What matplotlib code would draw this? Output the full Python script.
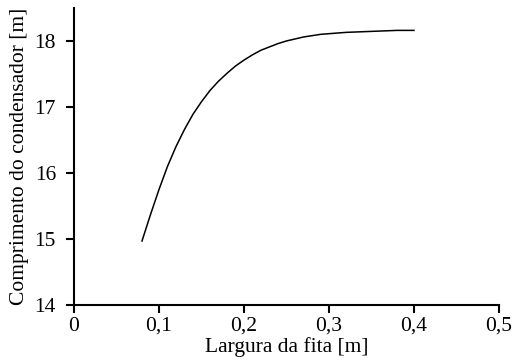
import numpy as np
import matplotlib.pyplot as plt

# largura da fita [m] e comprimento do condensador [m]
largura = [0.08, 0.09, 0.10, 0.11, 0.12, 0.13, 0.14, 0.15, 0.16, 0.17, 0.18,
           0.19, 0.20, 0.21, 0.22, 0.23, 0.24, 0.25, 0.26, 0.27, 0.28, 0.29,
           0.30, 0.32, 0.34, 0.36, 0.38, 0.40]
comprimento = [14.97, 15.37, 15.75, 16.10, 16.40, 16.66, 16.89, 17.08, 17.25,
               17.39, 17.51, 17.62, 17.71, 17.79, 17.86, 17.91, 17.96, 18.00,
               18.03, 18.06, 18.08, 18.10, 18.11, 18.13, 18.14, 18.15, 18.16,
               18.16]

x_ticks = [0, 0.1, 0.2, 0.3, 0.4, 0.5]
x_labels = ['0', '0,1', '0,2', '0,3', '0,4', '0,5']
y_ticks = [14, 15, 16, 17, 18]
y_labels = ['14', '15', '16', '17', '18']

plt.rcParams['font.family'] = ['Liberation Serif', 'DejaVu Serif']

fig = plt.figure(figsize=(5.16, 3.61), dpi=100)
ax = fig.add_axes([0.1434, 0.155, 0.8236, 0.823])

ax.plot(largura, comprimento, color='black', linewidth=1.1)

ax.set_xlim(0, 0.5)
ax.set_ylim(14, 18.5)
ax.set_xticks(x_ticks)
ax.set_xticklabels(x_labels)
ax.set_yticks(y_ticks)
ax.set_yticklabels(y_labels)

ax.spines['top'].set_visible(False)
ax.spines['right'].set_visible(False)
for s in ['left', 'bottom']:
    ax.spines[s].set_linewidth(1.5)
ax.tick_params(direction='out', length=5.5, width=1.5, labelsize=15.5)
ax.tick_params(axis='x', pad=3)
ax.tick_params(axis='y', pad=7.5)

ax.set_xlabel('Largura da fita [m]', fontsize=15.5, labelpad=1)
ax.set_ylabel('Comprimento do condensador [m]', fontsize=15.5, labelpad=4)

fig.savefig('out.png', dpi=100)
